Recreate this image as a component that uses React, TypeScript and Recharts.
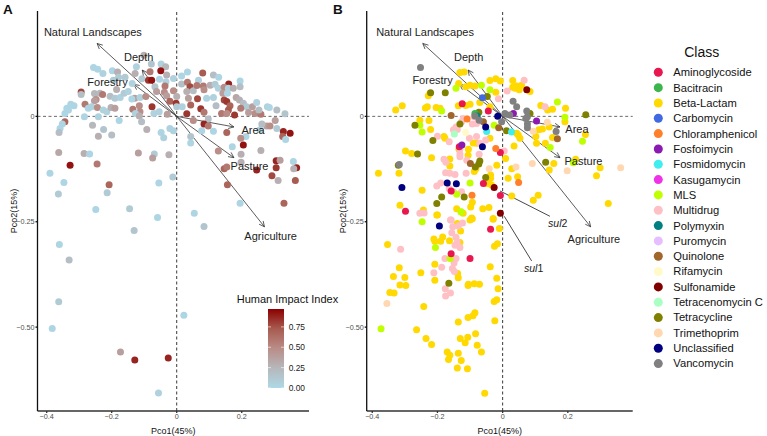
import {
  ScatterChart,
  Scatter,
  XAxis,
  YAxis,
  Cell,
  ReferenceLine,
  ReferenceDot,
} from 'recharts';

// Panel A: Pco1, Pco2, human impact index
const sitesA = [
  [-.101,.145,.3],[-.078,.124,.15],[-.048,.124,.05],[-.034,.118,.25],[-.256,.116,.02],[-.243,.112,.02],[-.227,.102,.05],[-.198,.108,.02],
  [-.182,.105,.3],[-.124,.118,.05],[-.128,.102,.3],[-.082,.106,.6],[-.049,.108,.95],[-.031,.098,.3],[-.159,.093,.1],[-.179,.093,.1],
  [-.195,.086,.1],[-.137,.078,.05],[-.107,.089,.1],[-.087,.086,.85],[-.077,.086,.95],[-.053,.088,.02],[-.033,.082,.05],[-.010,.090,.05],
  [.015,.096,.02],[.033,.105,.02],[.080,.103,.75],[.113,.098,.2],[.129,.093,.02],[.160,.077,.9],[.195,.084,.02],[.195,.070,.2],
  [-.294,.058,.8],[-.294,.052,.2],[-.253,.054,.25],[-.236,.055,.25],[-.228,.052,.6],[-.248,.040,.5],[-.253,.037,.4],[-.205,.048,.2],
  [-.185,.064,.3],[-.190,.043,.1],[-.174,.045,.05],[-.162,.055,.1],[-.149,.059,.05],[-.129,.043,.4],[-.138,.041,.02],[-.113,.045,.05],
  [-.095,.047,.5],[-.067,.070,.15],[-.062,.059,.4],[-.036,.072,.6],[-.038,.057,.5],[-.010,.061,.5],[-.031,.049,.4],[-.021,.036,.7],
  [-.002,.031,.85],[.015,.077,.2],[.033,.081,.6],[.041,.070,.8],[.031,.059,.3],[.051,.061,.2],[.067,.086,.05],[.062,.073,.6],
  [.082,.072,.6],[.084,.063,.5],[.103,.074,.3],[.118,.076,.1],[.128,.067,.05],[.146,.069,.5],[.159,.067,.05],[.174,.067,.3],
  [.142,.055,.4],[.156,.055,.02],[.113,.045,.05],[.092,.043,.05],[.064,.042,.8],[.036,.043,.4],[0,.047,.3],[0,.023,.1],
  [.017,.023,.05],[.043,.027,.7],[.074,.018,.85],[.084,.010,.6],[.121,.025,.2],[.146,.039,.8],[.154,.035,.85],[.164,.025,.7],
  [.159,.015,.75],[.138,.007,.6],[.154,.007,.5],[.178,.003,.85],[.183,.045,.35],[.193,.039,.3],[.205,.031,.2],[.215,.023,.1],
  [.197,.019,.6],[.233,.023,.4],[.246,.033,.05],[.279,.023,.05],[.285,.021,.02],[.308,.015,.2],[.333,.006,.15],[.221,.009,.4],
  [.241,.007,.5],[.259,.005,.6],[.253,.015,.2],[.303,-.010,.4],[.277,-.023,.4],[.287,-.023,.5],[.308,-.029,.1],[.328,-.036,.9],
  [.349,-.040,.95],[.326,-.048,.7],[.335,-.055,.02],[.256,-.032,.05],[.213,-.048,.02],[.197,-.052,.5],[.205,-.068,.95],[.171,-.072,.02],
  [.262,-.018,.2],[-.344,.007,.02],[-.333,.015,.02],[-.338,.019,.02],[-.326,.029,.02],[-.316,.025,.02],[-.282,.029,.6],[-.272,.019,.02],
  [-.262,.023,.05],[-.244,.021,.5],[-.226,.015,.05],[-.215,.011,.05],[-.202,.021,.3],[-.190,.019,.4],[-.284,-.001,.02],[-.241,-.001,.05],
  [-.177,-.010,.02],[-.344,-.013,.7],[-.352,-.018,.02],[-.359,-.029,.02],[-.362,-.038,.2],[-.259,-.021,.25],[-.241,-.047,.3],[-.225,-.031,.15],
  [-.200,-.044,.2],[-.135,.017,.6],[-.115,.025,.5],[-.113,.011,.5],[-.127,.007,.05],[-.115,.001,.3],[-.108,-.013,.2],[-.092,-.031,.3],
  [-.076,.023,.85],[-.070,.007,.05],[-.054,.011,.05],[-.029,.005,.4],[-.048,-.038,.02],[-.040,-.051,.05],[-.021,-.029,.05],[-.010,-.034,.05],
  [.043,-.063,.02],[.043,-.048,.15],[.031,.006,.85],[.051,-.010,.5],[.077,-.034,.02],[.097,-.006,.2],[.084,-.018,.9],[.097,-.023,.6],
  [.113,-.035,.02],[.154,-.038,.7],[.128,-.082,.5],[-.363,-.086,.35],[-.285,-.088,.3],[-.268,-.089,.02],[-.118,-.087,.4],[-.069,-.089,.1],
  [-.074,-.099,.4],[-.024,-.091,.3],[.198,-.090,.3],[.198,-.109,.3],[-.328,-.116,.95],[-.245,-.113,.6],[-.390,-.135,.02],[-.347,-.157,.02],
  [-.364,-.184,.1],[-.208,-.162,.7],[-.214,-.181,.1],[-.055,-.158,.02],[-.012,-.144,.1],[.146,-.124,.7],[.154,-.120,.6],[.156,-.162,.7],
  [.246,-.127,.9],[.259,-.081,.3],[.306,-.105,.9],[.318,-.104,.4],[.306,-.122,.85],[.359,-.107,.02],[.369,-.122,.9],[.360,-.124,.3],
  [.293,-.141,.8],[.312,-.152,.3],[.365,-.152,.75],[.330,-.206,.7],[.195,-.206,.02],[-.249,-.221,.02],[-.145,-.219,.1],[-.059,-.240,.02],
  [.054,-.230,.02],[.084,-.261,.15],[-.131,-.271,.15],[-.361,-.304,.02],[-.331,-.341,.2],[-.363,-.440,.1],[.022,-.472,.02],[-.383,-.503,.02],
  [-.173,-.559,.4],[-.129,-.578,.9],[-.026,-.573,.9],[-.056,-.656,.05],
];

// Panel B: Pco1, Pco2 by antibiotic class
const betaLactam = [
  [-.328,.015],[-.308,.025],[-.237,.020],[-.231,.023],[-.204,.021],[-.192,.019],[-.228,.049],[-.223,.055],[-.131,.104],[-.118,.105],
  [-.135,.078],[-.113,.070],[-.100,.074],[-.085,.072],[-.039,.085],[-.021,.089],[-.007,.084],[.031,.085],[.031,.069],[.043,.072],
  [.058,.074],[.051,.063],[.038,.067],[.084,.059],[-.021,.057],[-.070,.033],[-.113,.026],[-.100,.029],[-.136,.025],[-.039,.023],
  [.117,.026],[.153,.017],[.138,.015],[.193,.019],[.191,-.013],[.254,-.043],[-.254,-.009],[-.226,-.010],[-.221,-.031],[-.180,-.048],
  [-.177,-.052],[-.298,-.082],[-.279,-.088],[-.218,-.098],[-.381,-.135],[-.318,-.135],[-.247,-.175],[-.315,-.211],[-.243,-.222],[-.202,-.234],
  [-.162,-.118],[-.162,-.101],[-.134,-.078],[-.105,-.078],[-.090,-.063],[-.080,-.064],[-.106,-.092],[-.087,-.131],[-.082,-.124],[-.037,-.139],
  [-.044,-.151],[-.037,-.147],[-.049,-.159],[-.034,-.163],[-.018,-.116],[.009,-.100],[.028,-.124],[.035,-.070],[.017,-.147],[.046,-.143],
  [.028,-.189],[.109,-.187],[.094,-.199],[.324,-.207],[.288,-.141],[.299,-.122],[.224,-.102],[.157,-.112],[.143,-.127],[.104,-.064],
  [.131,-.064],[.102,-.048],[.153,-.050],[.111,-.032],[.122,-.030],[.143,-.025],[.048,-.044],[.053,-.052],[.043,-.040],[-.039,-.052],
  [-.093,-.204],[-.098,-.215],[-.141,-.219],[-.121,-.230],[-.061,-.219],[-.042,-.216],[-.029,-.242],[-.095,-.241],[-.353,-.304],[-.317,-.359],
  [-.335,-.380],[-.300,-.382],[-.315,-.400],[-.297,-.401],[-.346,-.418],[-.333,-.419],[-.251,-.371],[-.242,-.451],[-.264,-.506],[-.235,-.527],
  [-.218,-.541],[-.208,-.351],[-.211,-.291],[-.208,-.296],[-.190,-.296],[-.184,-.286],[-.163,-.295],[-.139,-.254],[-.129,-.272],[-.131,-.299],
  [-.138,-.373],[-.136,-.383],[-.208,-.389],[-.105,-.398],[-.106,-.401],[-.087,-.397],[-.071,-.398],[-.018,-.384],[-.014,-.409],[-.038,-.357],
  [-.029,-.244],[-.010,-.266],[-.016,-.302],[-.025,-.308],[-.018,-.435],[-.026,-.439],[-.024,-.485],[-.085,-.466],[-.091,-.473],[-.106,-.477],
  [-.136,-.488],[-.130,-.527],[-.107,-.524],[-.115,-.537],[-.083,-.516],[-.078,-.543],[-.065,-.559],[-.170,-.559],[-.162,-.567],[-.166,-.577],
  [-.136,-.562],[-.127,-.579],[-.139,-.597],[-.108,-.599],[-.055,-.657],[-.200,-.234],[-.100,-.246],[-.093,-.243],
];
const multidrug = [
  [.066,.086],[.014,.060],[-.013,.042],[.130,.023],[-.200,-.047],[-.164,-.060],[-.151,-.032],[-.143,-.025],[-.121,-.005],[-.093,-.018],
  [-.080,-.017],[-.088,-.001],[-.139,-.031],[-.126,-.013],[-.102,-.052],[-.080,-.048],[-.052,-.056],[-.070,-.064],[-.131,-.078],[-.131,-.089],
  [-.110,-.104],[-.131,-.096],[-.072,-.090],[-.180,-.102],[-.174,-.109],[-.112,-.135],[-.175,-.134],[-.162,-.135],[-.146,-.138],[-.190,-.158],
  [-.202,-.165],[-.164,-.171],[-.151,-.179],[-.126,-.179],[-.254,-.230],[-.241,-.229],[-.160,-.246],[.005,-.082],[-.158,-.246],[-.123,-.253],
  [-.136,-.260],[-.153,-.262],[-.156,-.276],[-.143,-.287],[-.139,-.298],[-.146,-.306],[-.131,-.311],[-.313,-.315],[-.177,-.337],[-.143,-.337],
  [-.149,-.348],[-.187,-.358],[-.154,-.361],[-.148,-.368],[-.211,-.371],[-.176,-.409],[-.160,-.419],[-.175,-.426],
];
const mls = [
  [-.143,.067],[-.187,.013],[-.254,-.021],[-.247,-.037],[-.039,.063],[-.026,-.021],[.191,-.002],[.245,-.059],[.217,-.110],[.146,-.074],
  [.168,.034],[-.100,-.158],[-.141,-.185],[-.128,-.226],[-.065,.074],[-.127,-.227],[-.247,-.250],[-.206,-.311],[-.161,-.337],[-.373,-.504],
];
const tetracycline = [
  [-.221,.056],[-.176,.056],[-.269,-.021],[-.214,-.057],[-.261,-.089],[-.320,-.116],[-.131,-.018],[-.052,-.145],[-.070,-.106],[-.073,-.113],
  [-.084,-.120],[-.187,-.191],[-.202,-.207],[-.118,-.191],[-.047,.047],[-.073,.010],[.084,.007],[.012,-.034],[.132,-.109],[.255,.004],[-.165,-.396],
];
const aminoglycoside = [
  [-.124,.030],[-.044,.013],[-.133,-.072],[-.007,-.086],[-.059,-.159],[-.158,-.177],[-.007,-.188],[-.298,-.225],[-.037,-.268],[-.158,-.326],[-.100,-.337],
];
const bacitracin = [[-.085,.007]];
const carbomycin = [[-.062,.044]];
const chloramphenicol = [[-.109,-.006],[-.021,-.076],[.049,-.157],[-.094,-.187]];
const fosfoimycin = [[-.125,-.068],[.104,-.011],[.033,.007]];
const fosmidomycin = [[.027,-.037],[-.049,-.036]];
const kasugamycin: number[][] = [];
const polymyxin = [[-.078,.001]];
const puromycin: number[][] = [];
const quinolone = [[-.158,.002],[-.012,-.027],[.168,-.053],[-.099,-.112],[-.059,-.013]];
const rifamycin = [[-.113,-.038]];
const sulfonamide = [[.074,.063],[-.026,-.169],[-.007,-.230]];
const tetracenomycinC = [[-.148,-.042]];
const trimethoprim = [[.094,-.035],[.137,-.014],[.091,-.112],[.198,-.129],[.362,-.122],[-.041,-.124],[-.355,-.444],[.041,-.120]];
const unclassified = [[-.015,0],[-.052,-.025],[-.062,-.072],[-.170,-.158],[-.142,-.160],[-.309,-.169],[-.194,-.260]];
const vancomycin = [
  [-.252,.116],[.032,.036],[.043,.023],[.074,.013],[.076,-.001],[.076,-.018],[.076,-.027],[.164,-.036],[-.085,.001],[-.072,-.009],
  [-.317,-.114],[-.003,-.013],[.022,.003],[.007,.007],[.071,-.005],
];

const classNames = [
  'Aminoglycoside','Bacitracin','Beta-Lactam','Carbomycin','Chloramphenicol','Fosfoimycin','Fosmidomycin','Kasugamycin','MLS','Multidrug',
  'Polymyxin','Puromycin','Quinolone','Rifamycin','Sulfonamide','Tetracenomycin C','Tetracycline','Trimethoprim','Unclassified','Vancomycin',
];
const classColors = [
  '#e8174f','#3cb54a','#ffd900','#4169e1','#ff7f2a','#8a1ab0','#40eef0','#f032e6','#bfff00','#ffc0c5',
  '#008080','#e6beff','#a0662a','#fffac8','#800000','#aaffc3','#808000','#ffd8b1','#000080','#808080',
];
const classPoints = [
  aminoglycoside,bacitracin,betaLactam,carbomycin,chloramphenicol,fosfoimycin,fosmidomycin,kasugamycin,mls,multidrug,
  polymyxin,puromycin,quinolone,rifamycin,sulfonamide,tetracenomycinC,tetracycline,trimethoprim,unclassified,vancomycin,
];
// yellow goes down first, the other classes sit on top of it
const drawOrder = [2,9,8,16,0,1,3,4,5,6,7,10,11,12,13,14,15,17,18,19];

const arrowNames = ['Natural Landscapes','Depth','Forestry','Area','Pasture','Agriculture'];
const arrowEnds = [[-.245,.173],[-.106,.110],[-.132,.076],[.176,-.025],[.176,-.098],[.270,-.262]];
const labelsA = [[-.258,.199],[-.117,.140],[-.213,.082],[.235,-.032],[.224,-.118],[.289,-.283]];
const labelsB = [[-.238,.199],[-.104,.142],[-.215,.086],[.228,-.029],[.248,-.105],[.280,-.291]];

const impactTicks = [0,.25,.5,.75];
const impactStops = ['#add8e6','#b6b8bc','#b98d88','#a85b50','#8b0000'];

const FONT = '"Liberation Sans", Arial, sans-serif';

const impactColor = (v: number) => {
  const t = Math.min(v, 1) * 4;
  const i = Math.min(Math.floor(t), 3);
  const f = t - i;
  const hex = (s: string, k: number) => parseInt(s.slice(1 + k * 2, 3 + k * 2), 16);
  const c = [0, 1, 2].map((k) => Math.round(hex(impactStops[i], k) * (1 - f) + hex(impactStops[i + 1], k) * f));
  return `rgb(${c.join(',')})`;
};

const toPoints = (rows: number[][]) => rows.map((r) => ({ x: r[0], y: r[1], impact: r[2] }));

const Dot = (props: any) => <circle cx={props.cx} cy={props.cy} r={3.5} fill={props.fill} />;

const Arrow = (props: any) => {
  const { x1, y1, x2, y2 } = props;
  const a = Math.atan2(y2 - y1, x2 - x1);
  const head = (d: number) => `${x2 - 6 * Math.cos(a + d)},${y2 - 6 * Math.sin(a + d)}`;
  return (
    <g fill="none" stroke="#333" strokeWidth={0.8}>
      <line x1={x1} y1={y1} x2={x2} y2={y2} />
      <polyline points={`${head(0.45)} ${x2},${y2} ${head(-0.45)}`} />
    </g>
  );
};

const plotText = (value: string) => (props: any) => (
  <text x={props.cx} y={props.cy} textAnchor="middle" dominantBaseline="central" fontSize={11} fontFamily={FONT} fill="#222">
    {value}
  </text>
);

const geneText = (num: string) => (props: any) => (
  <text x={props.cx} y={props.cy} textAnchor="middle" dominantBaseline="central" fontSize={10.5} fontFamily={FONT} fill="#222">
    <tspan fontStyle="italic">sul</tspan>
    {num}
  </text>
);

const fmtX = (v: number) => (v === 0 ? '0' : v.toFixed(1).replace('-', '\u2212'));
const fmtY = (v: number) => (v === 0 ? '0' : v.toFixed(2).replace('-', '\u2212'));

const frame = (xDomain: number[]) => [
  <XAxis
    key="x"
    type="number"
    dataKey="x"
    domain={xDomain}
    allowDataOverflow
    ticks={[-0.4, -0.2, 0, 0.2]}
    tickFormatter={fmtX}
    tick={{ fontSize: 7.2, fill: '#4d4d4d', fontFamily: FONT }}
    tickSize={2}
    tickMargin={1}
    height={25}
    stroke="#333"
    strokeWidth={1.3}
    label={{ value: 'Pco1(45%)', position: 'insideBottom', offset: 2, fontSize: 9, fill: '#111', fontFamily: FONT }}
  />,
  <YAxis
    key="y"
    type="number"
    dataKey="y"
    domain={[-0.699, 0.25]}
    allowDataOverflow
    ticks={[-0.5, -0.25, 0]}
    tickFormatter={fmtY}
    tick={{ fontSize: 7.2, fill: '#4d4d4d', fontFamily: FONT }}
    tickSize={2}
    tickMargin={1}
    width={24}
    stroke="#111"
    strokeWidth={1.3}
    label={{ value: 'Pco2(15%)', angle: -90, position: 'insideLeft', offset: 0, fontSize: 9, fill: '#111', fontFamily: FONT, style: { textAnchor: 'middle' } }}
  />,
];

const overlays = (labels: number[][]) => [
  <ReferenceLine key="v0" x={0} stroke="#222" strokeWidth={0.9} strokeDasharray="3 2.5" />,
  <ReferenceLine key="h0" y={0} stroke="#444" strokeWidth={0.8} strokeDasharray="3 2.5" />,
  ...arrowNames.map((name, i) => (
    <ReferenceLine
      key={name}
      segment={[{ x: 0, y: 0 }, { x: arrowEnds[i][0], y: arrowEnds[i][1] }]}
      shape={Arrow}
    />
  )),
  ...arrowNames.map((name, i) => (
    <ReferenceDot key={name + '-label'} x={labels[i][0]} y={labels[i][1]} r={0} shape={plotText(name)} />
  )),
];

export default function App() {
  return (
    <div style={{ position: 'absolute', left: 0, top: 0, width: 767, height: 436, background: '#fff', fontFamily: FONT }}>
      <div style={{ position: 'absolute', left: 0, top: 0 }}>
        <ScatterChart width={320} height={436} margin={{ top: 11, right: 11, bottom: 0, left: 13.5 }}>
          {frame([-0.4283, 0.407])}
          <Scatter data={toPoints(sitesA)} shape={Dot} isAnimationActive={false}>
            {sitesA.map((row, i) => (
              <Cell key={i} fill={impactColor(row[2])} />
            ))}
          </Scatter>
          {overlays(labelsA)}
        </ScatterChart>
      </div>

      <div style={{ position: 'absolute', left: 320, top: 0 }}>
        <ScatterChart width={320} height={436} margin={{ top: 11, right: 7.3, bottom: 0, left: 22.7 }}>
          {frame([-0.417, 0.399])}
          {drawOrder.map((k) => (
            <Scatter key={classNames[k]} data={toPoints(classPoints[k])} fill={classColors[k]} shape={Dot} isAnimationActive={false} />
          ))}
          {overlays(labelsB)}
          <ReferenceLine segment={[{ x: -0.008, y: -0.177 }, { x: 0.145, y: -0.237 }]} stroke="#333" strokeWidth={0.9} />
          <ReferenceLine segment={[{ x: 0.005, y: -0.237 }, { x: 0.089, y: -0.343 }]} stroke="#333" strokeWidth={0.9} />
          <ReferenceDot x={0.169} y={-0.253} r={0} shape={geneText('2')} />
          <ReferenceDot x={0.095} y={-0.359} r={0} shape={geneText('1')} />
        </ScatterChart>
      </div>

      <div style={{ position: 'absolute', left: 3, top: 2, fontSize: 13.5, fontWeight: 700, color: '#111' }}>A</div>
      <div style={{ position: 'absolute', left: 333, top: 2, fontSize: 13.5, fontWeight: 700, color: '#111' }}>B</div>

      <svg width={767} height={436} style={{ position: 'absolute', left: 0, top: 0, pointerEvents: 'none' }}>
        <defs>
          <linearGradient id="impact" x1="0" y1="1" x2="0" y2="0">
            {impactStops.map((c, i) => (
              <stop key={c} offset={`${(i / 4) * 100}%`} stopColor={c} />
            ))}
          </linearGradient>
        </defs>
        <text x={236.7} y={303} fontSize={11} fontFamily={FONT} fill="#111">Human Impact Index</text>
        <rect x={268} y={309} width={16} height={79} fill="url(#impact)" />
        {impactTicks.map((t) => (
          <g key={t}>
            <line x1={268} x2={271} y1={388 - t * 81.5} y2={388 - t * 81.5} stroke="#fff" strokeWidth={0.6} />
            <line x1={281} x2={284} y1={388 - t * 81.5} y2={388 - t * 81.5} stroke="#fff" strokeWidth={0.6} />
            <text x={288.7} y={388 - t * 81.5 + 3} fontSize={8.4} fontFamily={FONT} fill="#222">{t.toFixed(2)}</text>
          </g>
        ))}
        <text x={701.7} y={57} textAnchor="middle" fontSize={14} fontFamily={FONT} fill="#111">Class</text>
        {classNames.map((name, i) => (
          <g key={name}>
            <circle cx={658.3} cy={72.3 + i * 15.33} r={4.5} fill={classColors[i]} />
            <text x={673.3} y={76.2 + i * 15.33} fontSize={11.2} fontFamily={FONT} fill="#111">{name}</text>
          </g>
        ))}
      </svg>
    </div>
  );
}
